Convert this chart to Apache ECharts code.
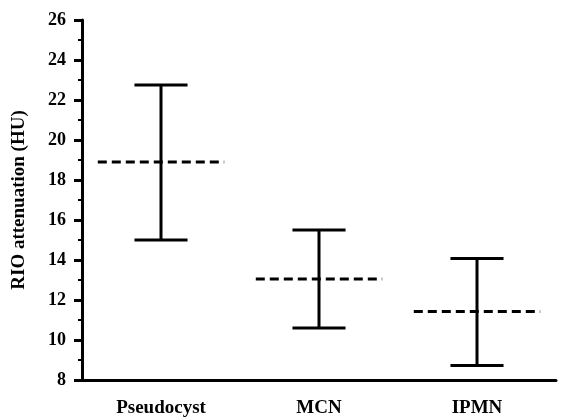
<!DOCTYPE html>
<html>
<head>
<meta charset="utf-8">
<script src="https://cdn.jsdelivr.net/npm/echarts@6/dist/echarts.min.js"></script>
<style>
  html, body { margin: 0; padding: 0; background: #fff; }
  #main { width: 561px; height: 419px; }
</style>
</head>
<body>
<div id="main"></div>
<script>
// groups and values
var categories = ['Pseudocyst', 'MCN', 'IPMN'];
var meanValues = [18.9, 13.05, 11.42];
var upperValues = [22.75, 15.5, 14.08];
var lowerValues = [15.0, 10.6, 8.72];
var yTicks = [8, 10, 12, 14, 16, 18, 20, 22, 24, 26];

var chart = echarts.init(document.getElementById('main'));

var serif = 'Liberation Serif';

var seriesData = categories.map(function (c, i) {
  return [i, meanValues[i], upperValues[i], lowerValues[i]];
});

function renderBar(params, api) {
  var x = api.value(0);
  var mid = api.coord([x, api.value(1)]);
  var hi = api.coord([x, api.value(2)]);
  var lo = api.coord([x, api.value(3)]);
  var band = api.size([1, 0])[0];
  var cap = band * 0.168;
  var half = band * 0.4;
  var solid = { stroke: '#000', lineWidth: 3 };
  return {
    type: 'group',
    children: [
      { type: 'line', shape: { x1: hi[0], y1: hi[1], x2: lo[0], y2: lo[1] }, style: solid },
      { type: 'line', shape: { x1: hi[0] - cap, y1: hi[1], x2: hi[0] + cap, y2: hi[1] }, style: solid },
      { type: 'line', shape: { x1: lo[0] - cap, y1: lo[1], x2: lo[0] + cap, y2: lo[1] }, style: solid },
      { type: 'line', shape: { x1: mid[0] - half, y1: mid[1], x2: mid[0] + half, y2: mid[1] },
        style: { stroke: '#000', lineWidth: 3, lineDash: [9, 5] } }
    ]
  };
}

var option = {
  backgroundColor: '#fff',
  animation: false,
  grid: { left: 82, right: 5, top: 20, bottom: 39 },
  xAxis: {
    type: 'category',
    data: categories,
    axisLine: { lineStyle: { color: '#000', width: 3 } },
    axisTick: { alignWithLabel: true, length: 8, lineStyle: { color: '#000', width: 3 } },
    axisLabel: { color: '#000', fontFamily: serif, fontWeight: 'bold', fontSize: 19, margin: 19 }
  },
  yAxis: {
    type: 'value',
    min: yTicks[0],
    max: yTicks[yTicks.length - 1],
    interval: 2,
    name: 'RIO attenuation (HU)',
    nameLocation: 'middle',
    nameGap: 53,
    nameTextStyle: { color: '#000', fontFamily: serif, fontWeight: 'bold', fontSize: 19 },
    axisLine: { show: true, lineStyle: { color: '#000', width: 3 } },
    axisTick: { show: true, length: 8, lineStyle: { color: '#000', width: 3 } },
    minorTick: { show: true, splitNumber: 2, length: 4, lineStyle: { color: '#000', width: 2 } },
    splitLine: { show: false },
    axisLabel: { color: '#000', fontFamily: serif, fontWeight: 'bold', fontSize: 18, margin: 16 }
  },
  series: [{
    type: 'custom',
    renderItem: renderBar,
    encode: { x: 0, y: [1, 2, 3] },
    data: seriesData
  }]
};

chart.setOption(option);
</script>
</body>
</html>
